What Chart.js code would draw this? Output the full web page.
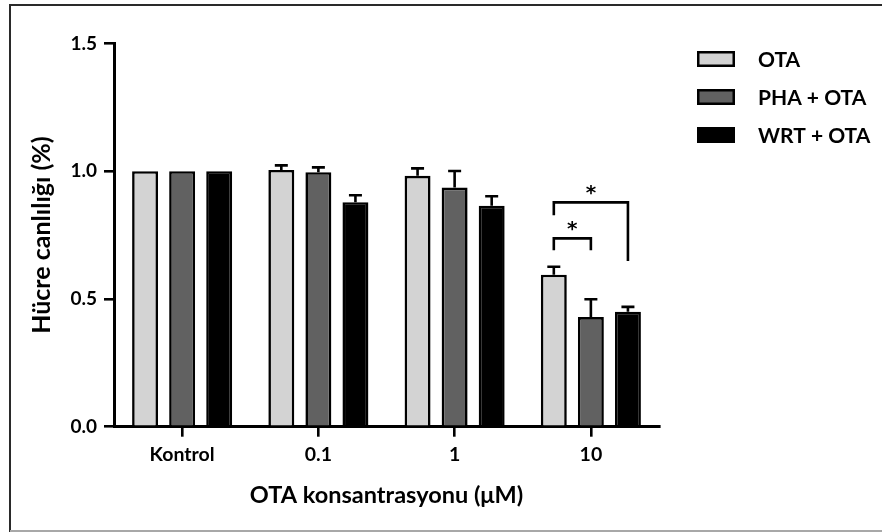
<!DOCTYPE html>
<html>
<head>
<meta charset="utf-8">
<script src="https://cdn.jsdelivr.net/npm/chart.js@4.4.1/dist/chart.umd.min.js"></script>
<style>
  html, body { margin: 0; padding: 0; background: #fff; }
  #wrap { width: 882px; height: 532px; position: relative; }
</style>
</head>
<body>
<div id="wrap"><canvas id="c" width="882" height="532"></canvas></div>
<script>
// Cell viability (fraction of control) by OTA concentration
const categories = ['Kontrol', '0.1', '1', '10'];
const seriesNames = ['OTA', 'PHA + OTA', 'WRT + OTA'];
const otaMean = [1.0, 1.005, 0.982, 0.595];
const otaErr  = [0, 0.018, 0.029, 0.031];
const phaMean = [1.0, 0.996, 0.936, 0.429];
const phaErr  = [0, 0.019, 0.065, 0.070];
const wrtMean = [1.0, 0.879, 0.865, 0.450];
const wrtErr  = [0, 0.027, 0.037, 0.019];
const yTicks = [0, 0.5, 1.0, 1.5];

// Significance brackets (category index, series from/to, bracket level, foot levels, label)
const sigCategory  = [3, 3];
const sigFrom      = [0, 0];
const sigTo        = [1, 2];
const sigLevel     = [0.737, 0.878];
const sigLeftFoot  = [0.691, 0.828];
const sigRightFoot = [0.691, 0.649];
const sigLabel     = ['*', '*'];

const FONT = 'Lato, "Open Sans", sans-serif';
const fills = ['#d3d3d3', '#616161', '#000000'];
const errors = [otaErr, phaErr, wrtErr];

const framePlugin = {
  id: 'frame',
  beforeDraw(chart) {
    const ctx = chart.ctx;
    ctx.save();
    ctx.fillStyle = '#fff';
    ctx.fillRect(0, 0, chart.width, chart.height);
    ctx.strokeStyle = '#2a2a2a';
    ctx.lineWidth = 2;
    ctx.beginPath();
    ctx.moveTo(10, chart.height);
    ctx.lineTo(10, 5);
    ctx.lineTo(chart.width, 5);
    ctx.stroke();
    ctx.strokeStyle = '#a8a8a8';
    ctx.beginPath();
    ctx.moveTo(10, chart.height - 1);
    ctx.lineTo(chart.width, chart.height - 1);
    ctx.stroke();
    ctx.restore();
  }
};

const errorBarPlugin = {
  id: 'errorBars',
  afterDatasetsDraw(chart) {
    const ctx = chart.ctx;
    const y = chart.scales.y;
    ctx.save();
    ctx.strokeStyle = '#000';
    ctx.lineWidth = 2.6;
    chart.data.datasets.forEach((ds, di) => {
      const meta = chart.getDatasetMeta(di);
      meta.data.forEach((bar, i) => {
        const e = errors[di][i];
        if (!e) return;
        const top = y.getPixelForValue(ds.data[i] + e);
        ctx.beginPath();
        ctx.moveTo(bar.x, bar.y);
        ctx.lineTo(bar.x, top);
        ctx.moveTo(bar.x - 6.5, top);
        ctx.lineTo(bar.x + 6.5, top);
        ctx.stroke();
      });
    });
    ctx.restore();
  }
};

const bracketPlugin = {
  id: 'brackets',
  afterDatasetsDraw(chart) {
    const ctx = chart.ctx;
    const y = chart.scales.y;
    ctx.save();
    ctx.strokeStyle = '#000';
    ctx.lineWidth = 2.6;
    ctx.lineJoin = 'miter';
    ctx.fillStyle = '#000';
    ctx.font = 'bold 20px "DejaVu Sans", sans-serif';
    ctx.textAlign = 'center';
    ctx.textBaseline = 'alphabetic';
    sigCategory.forEach((c, k) => {
      const x1 = chart.getDatasetMeta(sigFrom[k]).data[c].x;
      const x2 = chart.getDatasetMeta(sigTo[k]).data[c].x;
      const yb = y.getPixelForValue(sigLevel[k]);
      ctx.beginPath();
      ctx.moveTo(x1, y.getPixelForValue(sigLeftFoot[k]));
      ctx.lineTo(x1, yb);
      ctx.lineTo(x2, yb);
      ctx.lineTo(x2, y.getPixelForValue(sigRightFoot[k]));
      ctx.stroke();
      ctx.fillText(sigLabel[k], (x1 + x2) / 2, yb - 3);
    });
    ctx.restore();
  }
};

const legendPlugin = {
  id: 'boxLegend',
  afterDraw(chart) {
    const ctx = chart.ctx;
    ctx.save();
    ctx.font = 'bold 21px ' + FONT;
    ctx.textAlign = 'left';
    ctx.textBaseline = 'middle';
    chart.data.datasets.forEach((ds, i) => {
      const cy = 59 + i * 38;
      ctx.fillStyle = '#000';
      ctx.fillRect(697, cy - 8, 38, 16);
      ctx.fillStyle = ds.backgroundColor;
      ctx.fillRect(699.5, cy - 5.5, 33, 11);
      ctx.fillStyle = '#000';
      ctx.fillText(ds.label, 758, cy + 1);
    });
    ctx.restore();
  }
};

const datasets = [otaMean, phaMean, wrtMean].map((vals, i) => ({
  label: seriesNames[i],
  data: vals,
  backgroundColor: fills[i],
  borderColor: '#000',
  borderWidth: 2.6,
  borderSkipped: 'start',
  categoryPercentage: 0.816,
  barPercentage: 0.70
}));

new Chart(document.getElementById('c'), {
  type: 'bar',
  data: { labels: categories, datasets },
  plugins: [framePlugin, errorBarPlugin, bracketPlugin, legendPlugin],
  options: {
    responsive: false,
    animation: false,
    devicePixelRatio: 1,
    layout: { padding: { left: 0, top: 43.5, right: 223, bottom: 15.3 } },
    plugins: { legend: { display: false }, tooltip: { enabled: false } },
    scales: {
      x: {
        afterFit: s => { s.height = 90; },
        grid: { display: true, drawOnChartArea: false, offset: false, tickLength: 10, lineWidth: 2.6, color: '#000' },
        border: { display: true, width: 3, color: '#000' },
        ticks: { color: '#000', padding: 6, font: { family: FONT, size: 19.5, weight: 'bold' } },
        title: { display: true, text: 'OTA konsantrasyonu (\u03bcM)', color: '#000', padding: { top: 0, bottom: 7 },
                 font: { family: FONT, size: 23.5, weight: 'bold' } }
      },
      y: {
        min: 0, max: 1.5,
        afterFit: s => { s.width = 114; },
        afterBuildTicks: s => { s.ticks = yTicks.map(v => ({ value: v })); },
        grid: { display: true, drawOnChartArea: false, tickLength: 10, lineWidth: 2.6, color: '#000' },
        border: { display: true, width: 3, color: '#000' },
        ticks: { color: '#000', padding: 7, font: { family: FONT, size: 19, weight: 'bold' },
                 callback: v => Number(v).toFixed(1) },
        title: { display: true, text: 'Hücre canlılığı (%)', color: '#000', padding: { top: 27, bottom: 0 },
                 font: { family: FONT, size: 25, weight: 'bold' } }
      }
    }
  }
});
</script>
</body>
</html>
